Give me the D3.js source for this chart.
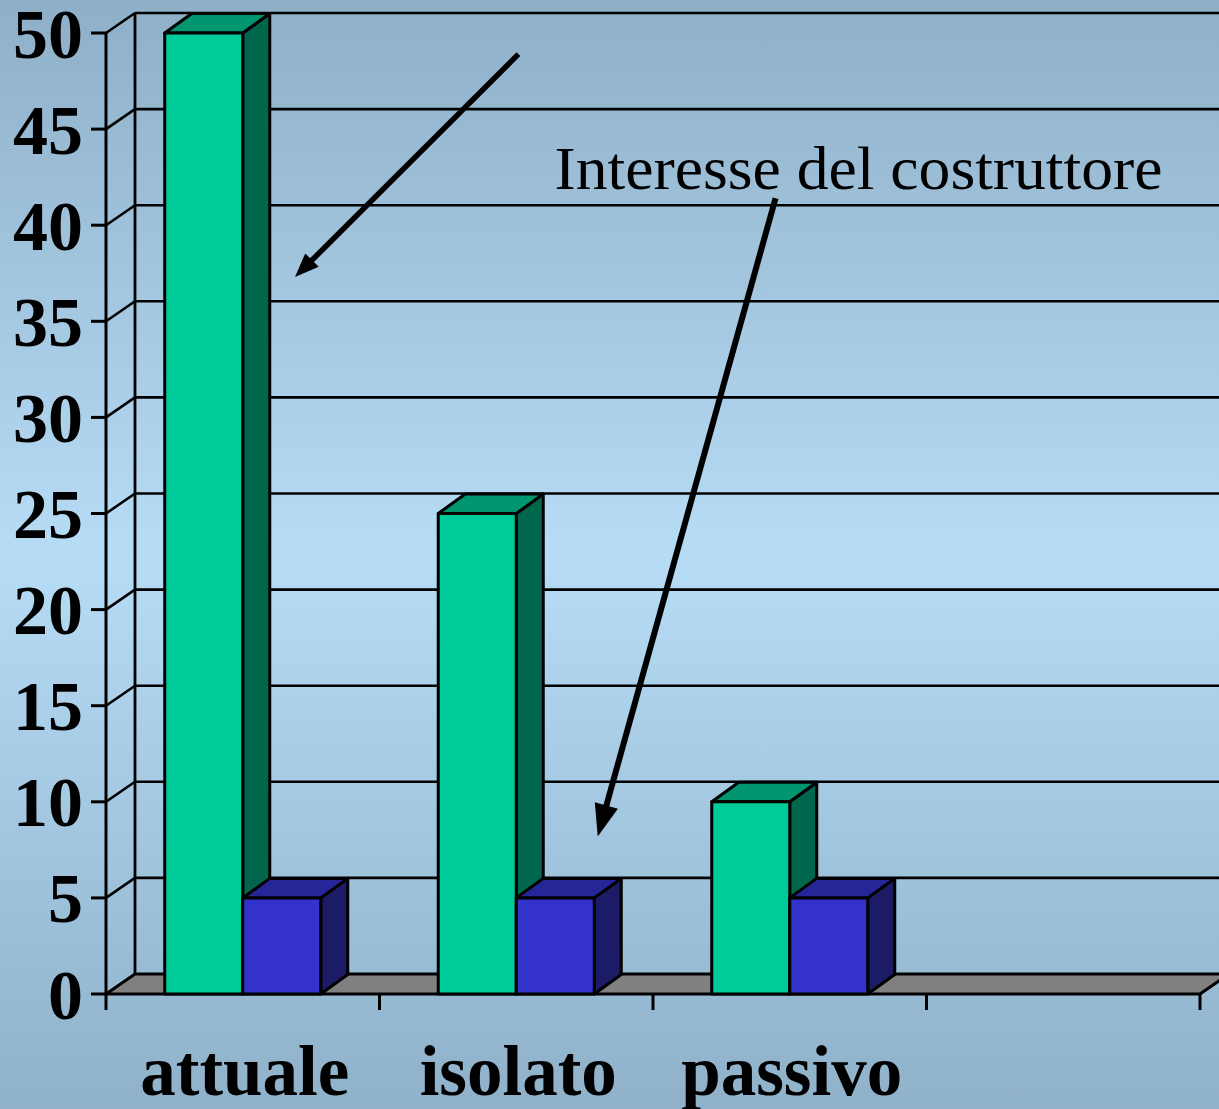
<!DOCTYPE html>
<html>
<head>
<meta charset="utf-8">
<script src="https://cdn.jsdelivr.net/npm/d3@7"></script>
<style>
  html, body { margin: 0; padding: 0; background: #a4c6df; }
  svg { display: block; }
</style>
</head>
<body>
<svg id="chart" width="1219" height="1109"></svg>
<script>
// Categories (the fourth slot on the floor is left empty)
const categories = ["attuale", "isolato", "passivo"];
const slots = [...categories, ""];
const seriesNames = ["costruttore", "utente"];
const greenValues = [50, 25, 10];
const blueValues = [5, 5, 5];
const yTicks = [0, 5, 10, 15, 20, 25, 30, 35, 40, 45, 50];

// Annotation: text and arrows, expressed in (slot units, value) coordinates
const noteText = "Interesse del costruttore";
const notePos = [1.64, 41.9];
const arrows = [
  { from: [1.508, 48.9], to: [0.691, 37.3], width: 5.5, head: [24, 19] },
  { from: [2.448, 41.4], to: [1.798, 8.2], width: 6, head: [32, 24] }
];

const W = 1219, H = 1109;
const svg = d3.select("#chart");

// Background gradient: darker at top and bottom, lightest in the middle
const defs = svg.append("defs");
const bg = defs.append("linearGradient").attr("id", "bg")
  .attr("x1", 0).attr("y1", 0).attr("x2", 0).attr("y2", 1);
bg.append("stop").attr("offset", "0%").attr("stop-color", "#8eafc7");
bg.append("stop").attr("offset", "50%").attr("stop-color", "#b7dcf6");
bg.append("stop").attr("offset", "100%").attr("stop-color", "#8fb1ca");
svg.append("rect").attr("width", W).attr("height", H).attr("fill", "url(#bg)");

// Scales
const y = d3.scaleLinear().domain([0, 50]).range([994, 33]);
const x = d3.scaleBand().domain(slots).range([106, 1200]).paddingInner(0).paddingOuter(0);
const xs = d3.scaleBand().domain(seriesNames).range([0, x.bandwidth()]).paddingInner(0).paddingOuter(0.753);
const xu = d3.scaleLinear().domain([0, slots.length]).range([106, 1200]);

// 3D depth offsets
const wall = { dx: 29, dy: -20 };
const bar = { dx: 27, dy: -19.5 };

const ink = "#000";

// Back wall gridlines
const g = svg.append("g");
g.selectAll("line.grid").data(yTicks.filter(v => v > 0)).join("line")
  .attr("class", "grid")
  .attr("x1", 106 + wall.dx).attr("x2", W + 5)
  .attr("y1", d => y(d) + wall.dy).attr("y2", d => y(d) + wall.dy)
  .attr("stroke", ink).attr("stroke-width", 2.6);

// Side wall connectors
g.selectAll("line.side").data(yTicks.filter(v => v > 0)).join("line")
  .attr("class", "side")
  .attr("x1", 106).attr("y1", d => y(d))
  .attr("x2", 106 + wall.dx).attr("y2", d => y(d) + wall.dy)
  .attr("stroke", ink).attr("stroke-width", 2.6);

// Back wall left edge
g.append("line")
  .attr("x1", 106 + wall.dx).attr("x2", 106 + wall.dx)
  .attr("y1", y(50) + wall.dy).attr("y2", y(0) + wall.dy)
  .attr("stroke", ink).attr("stroke-width", 2.8);

// Floor
const x0 = x.range()[0], x1 = x.range()[1];
g.append("path")
  .attr("d", `M${x0},${y(0)} L${x1},${y(0)} L${x1 + wall.dx},${y(0) + wall.dy} L${x0 + wall.dx},${y(0) + wall.dy} Z`)
  .attr("fill", "#808080").attr("stroke", ink).attr("stroke-width", 3).attr("stroke-linejoin", "round");

// Front value axis with ticks
g.append("line").attr("x1", 106).attr("x2", 106).attr("y1", y(50)).attr("y2", y(0) + 16)
  .attr("stroke", ink).attr("stroke-width", 3);
g.selectAll("line.ytick").data(yTicks).join("line")
  .attr("class", "ytick")
  .attr("x1", 91).attr("x2", 106).attr("y1", d => y(d)).attr("y2", d => y(d))
  .attr("stroke", ink).attr("stroke-width", 3);
g.selectAll("text.ylab").data(yTicks).join("text")
  .attr("class", "ylab")
  .attr("x", 83).attr("y", d => y(d))
  .attr("dy", "0.35em")
  .attr("text-anchor", "end")
  .attr("font-family", "'Liberation Serif', 'Times New Roman', serif")
  .attr("font-weight", "bold").attr("font-size", 70)
  .text(d => d);

// Category axis ticks
g.selectAll("line.xtick").data(d3.range(1, slots.length + 1)).join("line")
  .attr("class", "xtick")
  .attr("x1", d => xu(d)).attr("x2", d => xu(d))
  .attr("y1", y(0)).attr("y2", y(0) + 16)
  .attr("stroke", ink).attr("stroke-width", 3);

// 3D columns
function column(parent, left, w, val, colors) {
  const top = y(val), base = y(0);
  const gg = parent.append("g")
    .attr("stroke", ink).attr("stroke-width", 3).attr("stroke-linejoin", "round");
  // side face
  gg.append("path")
    .attr("d", `M${left + w},${base} L${left + w + bar.dx},${base + bar.dy} L${left + w + bar.dx},${top + bar.dy} L${left + w},${top} Z`)
    .attr("fill", colors.side);
  // top face
  gg.append("path")
    .attr("d", `M${left},${top} L${left + bar.dx},${top + bar.dy} L${left + w + bar.dx},${top + bar.dy} L${left + w},${top} Z`)
    .attr("fill", colors.top);
  // front face
  gg.append("rect")
    .attr("x", left).attr("y", top).attr("width", w).attr("height", base - top)
    .attr("fill", colors.front);
}

const greenColors = { front: "#00cc99", top: "#009670", side: "#00664c" };
const blueColors = { front: "#3333cc", top: "#262699", side: "#1b1b66" };

const bars = svg.append("g");
categories.forEach((c, i) => {
  column(bars, x(c) + xs("costruttore"), xs.bandwidth(), greenValues[i], greenColors);
  column(bars, x(c) + xs("utente"), xs.bandwidth(), blueValues[i], blueColors);
});

// Category labels
svg.selectAll("text.xlab").data(categories).join("text")
  .attr("class", "xlab")
  .attr("x", d => x(d) + x.bandwidth() / 2 + 2)
  .attr("y", 1095)
  .attr("text-anchor", "middle")
  .attr("font-family", "'Liberation Serif', 'Times New Roman', serif")
  .attr("font-weight", "bold").attr("font-size", 71)
  .text(d => d);

// Annotation text
svg.append("text")
  .attr("x", xu(notePos[0])).attr("y", y(notePos[1]))
  .attr("font-family", "'Liberation Serif', 'Times New Roman', serif")
  .attr("font-size", 61)
  .attr("textLength", 608).attr("lengthAdjust", "spacingAndGlyphs")
  .text(noteText);

// Annotation arrows
const ag = svg.append("g");
arrows.forEach(a => {
  const sx = xu(a.from[0]), sy = y(a.from[1]);
  const tx = xu(a.to[0]), ty = y(a.to[1]);
  const ang = Math.atan2(ty - sy, tx - sx);
  const [hl, hw] = a.head;
  const bx = tx - hl * Math.cos(ang), by = ty - hl * Math.sin(ang);
  ag.append("line")
    .attr("x1", sx).attr("y1", sy).attr("x2", bx + 2 * Math.cos(ang)).attr("y2", by + 2 * Math.sin(ang))
    .attr("stroke", ink).attr("stroke-width", a.width);
  const px = -Math.sin(ang), py = Math.cos(ang);
  ag.append("path")
    .attr("d", `M${tx},${ty} L${bx + px * hw / 2},${by + py * hw / 2} L${bx - px * hw / 2},${by - py * hw / 2} Z`)
    .attr("fill", ink);
});
</script>
</body>
</html>
